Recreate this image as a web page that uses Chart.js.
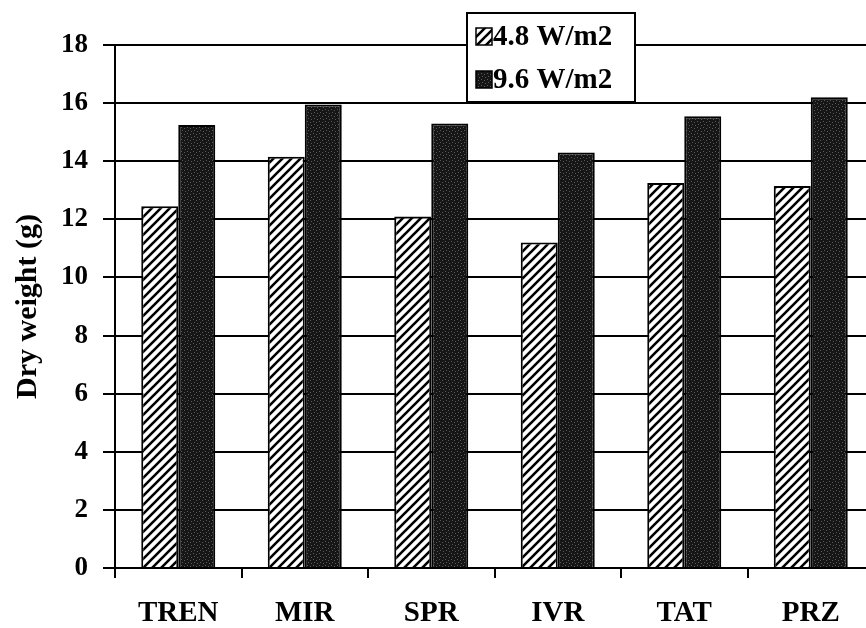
<!DOCTYPE html>
<html>
<head>
<meta charset="utf-8">
<script src="https://cdn.jsdelivr.net/npm/chart.js@4/dist/chart.umd.min.js"></script>
<style>
  html, body { margin: 0; padding: 0; background: #fff; overflow: hidden; }
  #wrap { position: relative; width: 884px; height: 650px; }
</style>
</head>
<body>
<div id="wrap"><canvas id="chart"></canvas></div>
<script>
const categories = ["TREN", "MIR", "SPR", "IVR", "TAT", "PRZ"];
const lowLight = [12.45, 14.15, 12.1, 11.2, 13.25, 13.15];
const highLight = [15.25, 15.95, 15.3, 14.3, 15.55, 16.2];
const seriesNames = ["4.8 W/m2", "9.6 W/m2"];

const serif = "'Liberation Serif', 'Times New Roman', serif";

// diagonal hatch, white with black "/" stripes
function hatchPattern() {
  const c = document.createElement("canvas");
  c.width = 9; c.height = 9;
  const g = c.getContext("2d");
  g.fillStyle = "#fff";
  g.fillRect(0, 0, 9, 9);
  g.strokeStyle = "#000";
  g.lineWidth = 2.6;
  g.beginPath();
  g.moveTo(-1, 10); g.lineTo(10, -1);
  g.moveTo(-5, 5); g.lineTo(5, -5);
  g.moveTo(4, 14); g.lineTo(14, 4);
  g.stroke();
  return g.createPattern(c, "repeat");
}

// dark fill with light speckles
function darkPattern() {
  const c = document.createElement("canvas");
  c.width = 6; c.height = 6;
  const g = c.getContext("2d");
  g.fillStyle = "#161616";
  g.fillRect(0, 0, 6, 6);
  g.fillStyle = "#5a5a5a";
  g.fillRect(1, 1, 1, 1);
  g.fillRect(4, 2, 1, 1);
  g.fillRect(2, 4, 1, 1);
  g.fillRect(5, 5, 1, 1);
  return g.createPattern(c, "repeat");
}

const hatch = hatchPattern();
const dark = darkPattern();

// legend box drawn over the top of the plot
const boxLegend = {
  id: "boxLegend",
  afterDraw(chart) {
    const ctx = chart.ctx;
    const x0 = 467, y0 = 13, w = 168, h = 89;
    ctx.save();
    ctx.fillStyle = "#fff";
    ctx.fillRect(x0, y0, w, h);
    ctx.strokeStyle = "#000";
    ctx.lineWidth = 2;
    ctx.strokeRect(x0, y0, w, h);
    const fills = [hatch, dark];
    const rows = [37, 80];
    ctx.font = "bold 29px " + serif;
    ctx.textBaseline = "middle";
    ctx.textAlign = "left";
    chart.data.datasets.forEach((ds, i) => {
      const cy = rows[i];
      ctx.fillStyle = fills[i];
      ctx.fillRect(476, cy - 9, 16, 17);
      ctx.lineWidth = 1.5;
      ctx.strokeRect(476, cy - 9, 16, 17);
      ctx.fillStyle = "#000";
      ctx.fillText(ds.label, 493, cy + 1);
    });
    ctx.restore();
  }
};

new Chart(document.getElementById("chart"), {
  type: "bar",
  data: {
    labels: categories,
    datasets: [
      {
        label: seriesNames[0],
        data: lowLight,
        backgroundColor: hatch,
        borderColor: "#000",
        borderWidth: 2,
      },
      {
        label: seriesNames[1],
        data: highLight,
        backgroundColor: dark,
        borderColor: "#000",
        borderWidth: 2,
      },
    ],
  },
  options: {
    responsive: true,
    maintainAspectRatio: false,
    animation: false,
    layout: {
      padding: { top: 45, right: 10, bottom: 0, left: 0 },
    },
    datasets: {
      bar: { categoryPercentage: 0.585, barPercentage: 1.0 },
    },
    plugins: {
      legend: { display: false },
      tooltip: { enabled: false },
    },
    scales: {
      x: {
        grid: {
          drawOnChartArea: false,
          drawTicks: true,
          tickLength: 10,
          color: "#000",
          lineWidth: 2,
        },
        border: { color: "#000", width: 2 },
        ticks: {
          color: "#000",
          padding: 21.5,
          font: { family: serif, size: 29, weight: "bold", lineHeight: 1 },
        },
      },
      y: {
        min: 0,
        max: 18,
        ticks: {
          stepSize: 2,
          color: "#000",
          padding: 15,
          font: { family: serif, size: 27, weight: "bold" },
        },
        grid: {
          color: "#000",
          lineWidth: 2,
          tickLength: 12,
        },
        border: { color: "#000", width: 2 },
        title: {
          display: true,
          text: "Dry weight (g)",
          color: "#000",
          padding: { top: 10, bottom: 0 },
          font: { family: serif, size: 30, weight: "bold", lineHeight: 1.2 },
        },
      },
    },
  },
  plugins: [boxLegend],
});
</script>
</body>
</html>
